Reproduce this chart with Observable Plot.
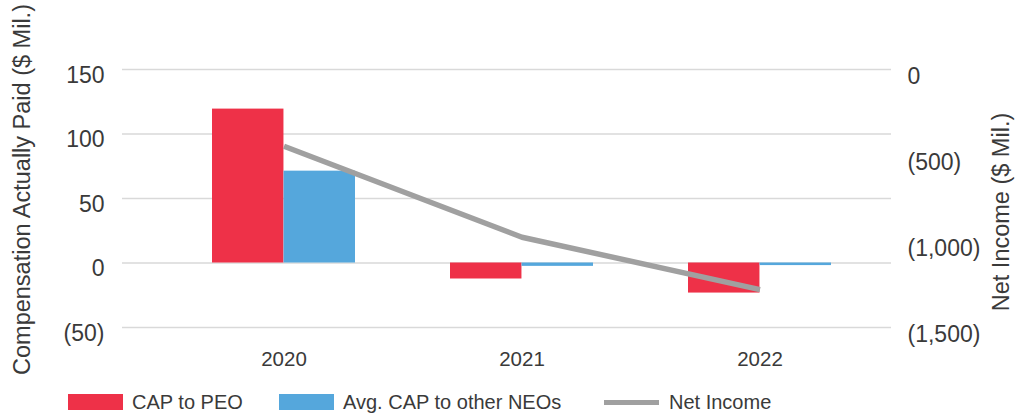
<!DOCTYPE html>
<html>
<head>
<meta charset="utf-8">
<script src="https://cdn.jsdelivr.net/npm/d3@7"></script>
<script src="https://cdn.jsdelivr.net/npm/@observablehq/plot@0.6"></script>
<style>
  html, body { margin: 0; padding: 0; background: #fff; }
  body { width: 1018px; height: 419px; overflow: hidden; font-family: "Liberation Sans", Arial, sans-serif; color: #3a3a3a; }
  #legend { position: relative; height: 34px; font-size: 20px; }
  .item { position: absolute; top: 0; height: 34px; display: flex; align-items: center; }
  .sw { width: 55px; height: 16px; margin-right: 9px; }
  .ln { width: 55px; height: 5px; margin-right: 10px; }
</style>
</head>
<body>
<div id="chart"></div>
<div id="legend"></div>
<script>
// ---- data ----
const years = ["2020", "2021", "2022"];
const capPEO = [119.3, -12.4, -23.3];          // $ Mil.
const capNEO = [71.2, -2.6, -2.0];             // $ Mil.
const netIncome = [-446, -975, -1280];         // $ Mil. (right axis)
const leftTicks = [-50, 0, 50, 100, 150];
const rightTicks = [0, -500, -1000, -1500];
const seriesNames = ["CAP to PEO", "Avg. CAP to other NEOs", "Net Income"];
const colors = ["#EE3148", "#55A7DC", "#A0A0A0"];

// right axis [-1500, 0] shares the frame with left axis [-50, 150]
const toLeft = v => 150 + v * (200 / 1500);
const fromLeft = v => (v - 150) * (1500 / 200);
const paren = v => {
  const r = Math.round(v);
  return r < 0 ? `(${d3.format(",")(-r)})` : d3.format(",")(r);
};

const rows = years.map((y, i) => ({year: y, peo: capPEO[i], neo: capNEO[i], ni: netIncome[i]}));

const xRange = [163.8, 879.3];
const pIn = 0.4, pOut = 0.2;
const step = (xRange[1] - xRange[0]) / (years.length - pIn + 2 * pOut);
const half = step * (1 - pIn) / 2;

const chart = Plot.plot({
  width: 1018,
  height: 385,
  marginLeft: 122,
  marginRight: 127,
  marginTop: 69,
  marginBottom: 58,
  style: {fontFamily: "'Liberation Sans', Arial, sans-serif", color: "#3a3a3a", background: "#fff", overflow: "visible"},
  x: {type: "band", domain: years, range: xRange, paddingInner: pIn, paddingOuter: pOut, axis: null},
  y: {domain: [-50, 150], axis: null},
  marks: [
    Plot.ruleY(leftTicks, {stroke: "#d9d9d9", strokeWidth: 1.5}),
    Plot.barY(rows, {x: "year", y: "peo", fill: colors[0], insetRight: half}),
    Plot.barY(rows, {x: "year", y: "neo", fill: colors[1], insetLeft: half}),
    Plot.line(rows, {x: "year", y: d => toLeft(d.ni), stroke: colors[2], strokeWidth: 5.5, strokeLinecap: "butt", strokeLinejoin: "miter"}),
    Plot.axisY({ticks: leftTicks, anchor: "left", tickSize: 0, tickPadding: 18, fontSize: 23, dy: 6, tickFormat: paren, label: null}),
    Plot.axisY({ticks: rightTicks.map(toLeft), anchor: "right", tickSize: 0, tickPadding: 16, fontSize: 23, dy: 7, tickFormat: v => paren(fromLeft(v)), label: null}),
    Plot.axisX({tickSize: 0, tickPadding: 24, fontSize: 20.5, label: null}),
    Plot.text(["Compensation Actually Paid ($ Mil.)"], {text: d => d, frameAnchor: "left", textAnchor: "middle", rotate: -90, dx: -100, dy: -9, fontSize: 23.5, fill: "#3a3a3a"}),
    Plot.text(["Net Income ($ Mil.)"], {text: d => d, frameAnchor: "right", textAnchor: "middle", rotate: -90, dx: 110, dy: 13.5, fontSize: 23.5, fill: "#3a3a3a"})
  ]
});
document.getElementById("chart").appendChild(chart);

// ---- legend ----
const legend = document.getElementById("legend");
const lefts = [68, 279, 604];
seriesNames.forEach((name, i) => {
  const it = document.createElement("div");
  it.className = "item";
  it.style.left = lefts[i] + "px";
  const sw = document.createElement("div");
  sw.className = i === 2 ? "ln" : "sw";
  sw.style.background = colors[i];
  const tx = document.createElement("span");
  tx.textContent = name;
  it.appendChild(sw);
  it.appendChild(tx);
  legend.appendChild(it);
});
</script>
</body>
</html>
